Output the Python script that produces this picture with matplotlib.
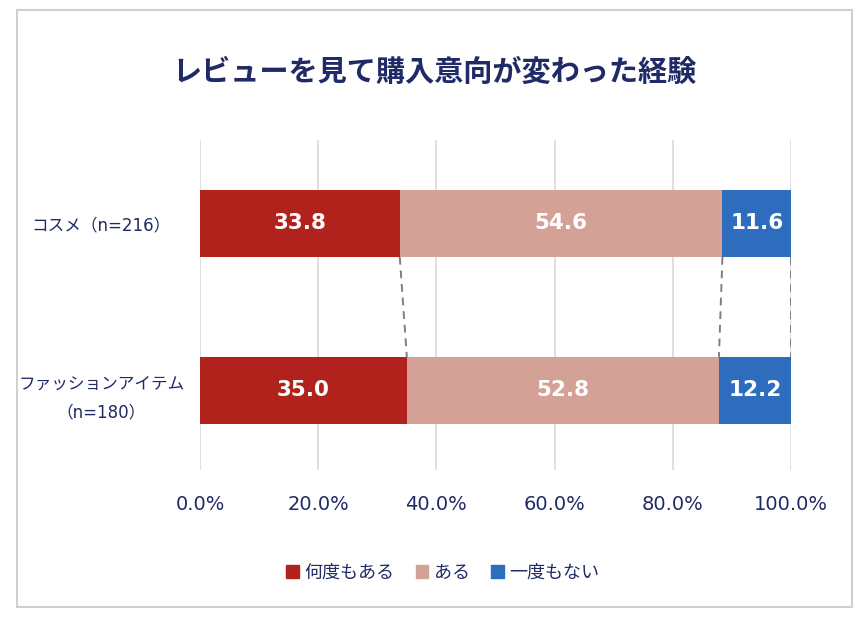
import matplotlib
matplotlib.use("Agg")
import matplotlib.pyplot as plt
from matplotlib.patches import Rectangle

plt.rcParams['font.family'] = ['Noto Sans CJK JP', 'DejaVu Sans']

categories = ["コスメ（n=216）", "ファッションアイテム\n（n=180）"]
series_names = ["何度もある", "ある", "一度もない"]
nandomo = [33.8, 35.0]
aru = [54.6, 52.8]
ichido_nai = [11.6, 12.2]
xticks = [0, 20, 40, 60, 80, 100]
xtick_labels = ["0.0%", "20.0%", "40.0%", "60.0%", "80.0%", "100.0%"]

colors = ["#B0221B", "#D4A197", "#2E6DBE"]
navy = "#1F2A66"

fig = plt.figure(figsize=(8.68, 6.18), dpi=100)
ax = fig.add_axes([0.2304, 0.2395, 0.6809, 0.534])

# outer frame
fig.patches.append(Rectangle((17 / 868, 1 - 607 / 618), 835 / 868, 597 / 618,
                             transform=fig.transFigure, fill=False,
                             edgecolor="#D0D0D0", linewidth=1.5))

ypos = [0, 1]
bar_h = 0.40
left = [0, 0]
for vals, col in zip([nandomo, aru, ichido_nai], colors):
    ax.barh(ypos, vals, left=left, height=bar_h, color=col, zorder=3)
    for y, v, l in zip(ypos, vals, left):
        ax.text(l + v / 2, y, f"{v:.1f}", ha="center", va="center", family="DejaVu Sans",
                color="white", fontsize=15.5, fontweight="bold", zorder=4)
    left = [a + b for a, b in zip(left, vals)]

# dashed connectors between bar segment edges
cum_top = [nandomo[0], nandomo[0] + aru[0], nandomo[0] + aru[0] + ichido_nai[0]]
cum_bot = [nandomo[1], nandomo[1] + aru[1], nandomo[1] + aru[1] + ichido_nai[1]]
for a, b in zip(cum_top, cum_bot):
    ax.plot([a, b], [ypos[0] + bar_h / 2, ypos[1] - bar_h / 2], ls=(0, (4, 3)),
            color="#7F7F7F", lw=1.4, zorder=2)

ax.set_xlim(0, 100)
ax.set_ylim(1.476, -0.5)
ax.set_xticks(xticks)
ax.set_xticklabels(xtick_labels, fontsize=14, color=navy, family="DejaVu Sans")
ax.set_yticks(ypos)
ax.set_yticklabels(categories, fontsize=12, color=navy, ha="center", linespacing=1.8,
                   family=["DejaVu Sans", "Noto Sans CJK JP"])
ax.tick_params(axis="y", length=0, pad=71)
ax.tick_params(axis="x", length=0, pad=18)
ax.grid(axis="x", color="#D9D9D9", lw=1.2, zorder=0)
for s in ax.spines.values():
    s.set_visible(False)

fig.text(0.5, 1 - 72 / 618, "レビューを見て購入意向が変わった経験", ha="center", va="center",
         fontsize=21, fontweight="bold", color=navy)

handles = [Rectangle((0, 0), 1, 1, color=c) for c in colors]
fig.legend(handles, series_names, loc="center", bbox_to_anchor=(0.51, 1 - 573 / 618),
           ncol=3, frameon=False, fontsize=13, handlelength=0.7, handleheight=0.7,
           handletextpad=0.3, columnspacing=1.2, labelcolor=navy)

fig.savefig("out.png", dpi=100)
